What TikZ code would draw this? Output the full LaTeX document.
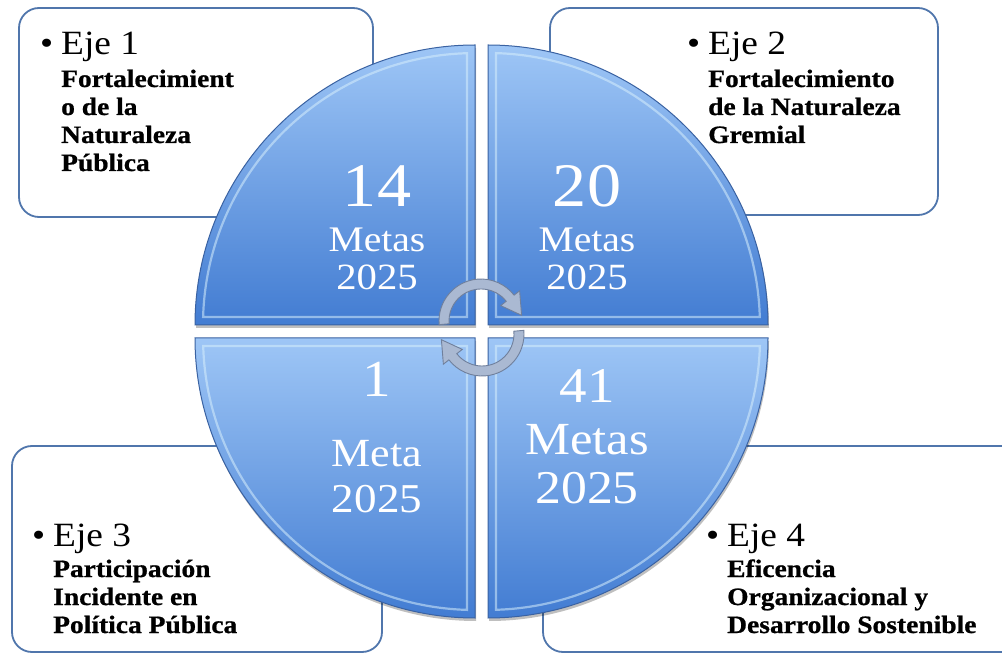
\documentclass[tikz,border=0pt]{standalone}
\usepackage{fontspec}
\setmainfont[FakeStretch=1.1, BoldFeatures={FakeBold=0.8}]{Liberation Serif}
\usetikzlibrary{calc,positioning}

\definecolor{boxedge}{RGB}{80,118,172}
\definecolor{qtop}{RGB}{158,198,246}
\definecolor{qbottom}{RGB}{66,124,210}
\definecolor{qedge}{RGB}{58,98,162}
\definecolor{qlight}{RGB}{214,238,252}
\definecolor{arrowfill}{RGB}{170,185,210}
\definecolor{arrowedge}{RGB}{112,128,156}

\tikzset{
    ejebox/.style={draw=boxedge, line width=1.8pt, fill=white, rounded corners=20pt},
    quadrant/.style={draw=qedge, line width=1pt, top color=qtop, bottom color=qbottom},
    qshadow/.style={fill=black, opacity=.25},
    bevel/.style={draw=qlight, opacity=.55, line width=2.2pt},
    heading/.style={font=\fontsize{34}{34}\selectfont, anchor=base west, inner sep=0pt},
    body/.style={font=\bfseries\fontsize{25}{28}\selectfont, anchor=base west, inner sep=0pt},
    goal/.style={text=white, anchor=base, inner sep=0pt},
    cyclearrow/.style={fill=arrowfill, draw=arrowedge, line width=.9pt}
}

\begin{document}
\begin{tikzpicture}[x=1pt, y=1pt]
    \useasboundingbox (0,0) rectangle (1002,654);

    % the four boxes
    \draw[ejebox] (19,437) rectangle (373,646);
    \draw[ejebox] (550,439) rectangle (938,646);
    \draw[ejebox] (12,2) rectangle (382,208);
    \draw[ejebox] (543,2) rectangle (1030,208);

    \node[heading] (eje1) at (61,599) {\llap{\textbullet\hspace{8pt}}Eje 1};
    \foreach \Line [count=\i] in {Fortalecimient, o de la, Naturaleza, Pública}
        \node[body] (eje1-\i) at (61,595-28*\i) {\Line};

    \node[heading] (eje2) at (708,599) {\llap{\textbullet\hspace{8pt}}Eje 2};
    \foreach \Line [count=\i] in {Fortalecimiento, de la Naturaleza, Gremial}
        \node[body] (eje2-\i) at (708,595-28*\i) {\Line};

    \node[heading] (eje3) at (53,107) {\llap{\textbullet\hspace{8pt}}Eje 3};
    \foreach \Line [count=\i] in {Participación, Incidente en, Política Pública}
        \node[body] (eje3-\i) at (53,105-28*\i) {\Line};

    \node[heading] (eje4) at (727,107) {\llap{\textbullet\hspace{8pt}}Eje 4};
    \foreach \Line [count=\i] in {Eficencia, Organizacional y, Desarrollo Sostenible}
        \node[body] (eje4-\i) at (727,105-28*\i) {\Line};

    % circle in four pieces
    \foreach \Cx/\Cy/\Sa in {475/329/180, 488/329/90, 488/316/0, 475/316/270} {
        \fill[qshadow] (\Cx+1,\Cy-3) -- ++(\Sa:280)
            arc[start angle=\Sa, end angle=\Sa-90, radius=280] -- cycle;
        \draw[quadrant] (\Cx,\Cy) -- ++(\Sa:280)
            arc[start angle=\Sa, end angle=\Sa-90, radius=280] -- cycle;
        \draw[bevel] (\Cx,\Cy) ++(\Sa-45:11.3) -- ++(\Sa:263.9)
            arc[start angle=\Sa-1.7, end angle=\Sa-88.3, radius=272] -- cycle;
    }

    \node[goal, font=\fontsize{62}{62}\selectfont] (n14) at (377,447) {14};
    \node[goal, font=\fontsize{36}{36}\selectfont] (m14) at (377,402) {Metas};
    \node[goal, font=\fontsize{37}{37}\selectfont] (y14) at (377,364) {2025};

    \node[goal, font=\fontsize{62}{62}\selectfont] (n20) at (587,447) {20};
    \node[goal, font=\fontsize{36}{36}\selectfont] (m20) at (587,402) {Metas};
    \node[goal, font=\fontsize{37}{37}\selectfont] (y20) at (587,364) {2025};

    \node[goal, font=\fontsize{52}{52}\selectfont] (n1) at (377,257) {1};
    \node[goal, font=\fontsize{40}{40}\selectfont] (m1) at (377,187) {Meta};
    \node[goal, font=\fontsize{41}{41}\selectfont] (y1) at (377,142) {2025};

    \node[goal, font=\fontsize{50}{50}\selectfont] (n41) at (587,251) {41};
    \node[goal, font=\fontsize{46}{46}\selectfont] (m41) at (587,199) {Metas};
    \node[goal, font=\fontsize{47}{47}\selectfont] (y41) at (587,150) {2025};

    % turning arrows in the middle
    \foreach \Rot in {0,180}
        \filldraw[cyclearrow, rotate around={\Rot:(481.5,326.5)}, shift={(481,333)}]
            (185:42) arc[start angle=185, end angle=38, radius=42]
            -- (38:49) -- (8:41) -- (38:25) -- (38:32)
            arc[start angle=38, end angle=185, radius=32] -- cycle;
\end{tikzpicture}
\end{document}
